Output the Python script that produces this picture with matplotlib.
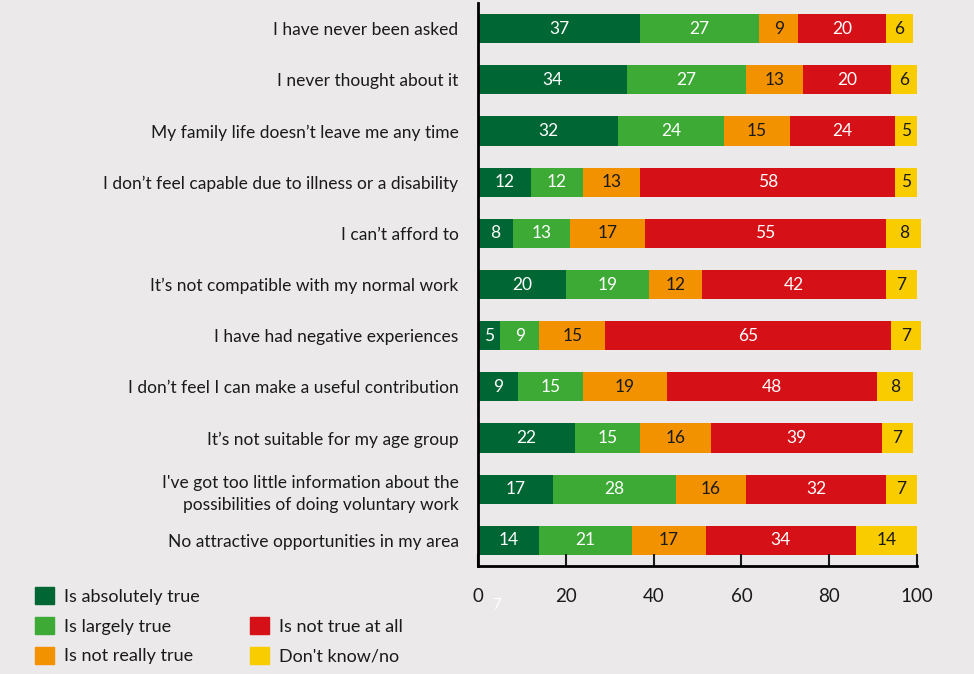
import numpy as np
import matplotlib.pyplot as plt
from matplotlib.patches import Patch

plt.rcParams['font.family'] = ['Lato', 'DejaVu Sans']

# reasons, top to bottom
reasons = [
    "I have never been asked",
    "I never thought about it",
    "My family life doesn\u2019t leave me any time",
    "I don\u2019t feel capable due to illness or a disability",
    "I can\u2019t afford to",
    "It\u2019s not compatible with my normal work",
    "I have had negative experiences",
    "I don\u2019t feel I can make a useful contribution",
    "It\u2019s not suitable for my age group",
    "I've got too little information about the\npossibilities of doing voluntary work",
    "No attractive opportunities in my area",
]

absolutely = [37, 34, 32, 12, 8, 20, 5, 9, 22, 17, 14]
largely = [27, 27, 24, 12, 13, 19, 9, 15, 15, 28, 21]
not_really = [9, 13, 15, 13, 17, 12, 15, 19, 16, 16, 17]
not_at_all = [20, 20, 24, 58, 55, 42, 65, 48, 39, 32, 34]
dont_know = [6, 6, 5, 5, 8, 7, 7, 8, 7, 7, 14]

series = [
    ("Is absolutely true", absolutely, "#006633", "white"),
    ("Is largely true", largely, "#3DAA35", "white"),
    ("Is not really true", not_really, "#F39200", "#1a1a1a"),
    ("Is not true at all", not_at_all, "#D51016", "white"),
    ("Don't know/no", dont_know, "#F9CC00", "#1a1a1a"),
]

bg = "#EBE9E9"
fig = plt.figure(figsize=(9.74, 6.74), dpi=100, facecolor=bg)
ax = fig.add_axes([478 / 974, 1 - 566 / 674, 439 / 974, 563 / 674])
ax.set_facecolor(bg)

y = np.arange(len(reasons))
left = np.zeros(len(reasons))
for name, vals, col, tcol in series:
    vals = np.array(vals, dtype=float)
    ax.barh(y, vals, left=left, height=0.57, color=col, label=name,
            clip_on=False)
    for yi, l, v in zip(y, left, vals):
        ax.text(l + v / 2, yi, f"{int(v)}", ha="center", va="center",
                color=tcol, fontsize=12.5)
    left += vals

ax.set_xlim(0, 100)
ax.set_ylim(len(reasons) - 0.5, -0.5)
ax.set_yticks(y)
ax.set_yticklabels(reasons, fontsize=12.5, color="#1a1a1a", linespacing=1.45)
ax.tick_params(axis="y", length=0, pad=14)
ax.set_xticks([0, 20, 40, 60, 80, 100])
ax.tick_params(axis="x", direction="in", length=9, width=1.5, pad=16,
               labelsize=13.5, colors="#1a1a1a")
for s in ["top", "right"]:
    ax.spines[s].set_visible(False)
ax.spines["left"].set_linewidth(2)
ax.spines["bottom"].set_linewidth(2)

# stray white label below the axis
ax.text(4.3, 11.27, "7", color="white", fontsize=11,
        ha="center", va="center", clip_on=False)

handles = [Patch(color=c) for _, _, c, _ in series]
blank = Patch(color="none")
labels = [s[0] for s in series]
fig.legend([handles[0], handles[1], handles[2], blank, handles[3], handles[4]],
           [labels[0], labels[1], labels[2], "", labels[3], labels[4]],
           ncol=2, loc="upper left", bbox_to_anchor=(19 / 974, 1 - 571 / 674),
           frameon=False, fontsize=13, handlelength=1.05, handleheight=1.05,
           handletextpad=0.55, columnspacing=2.8, labelspacing=0.68,
           labelcolor="#1a1a1a")

fig.savefig("out.png", dpi=100, facecolor=bg)
